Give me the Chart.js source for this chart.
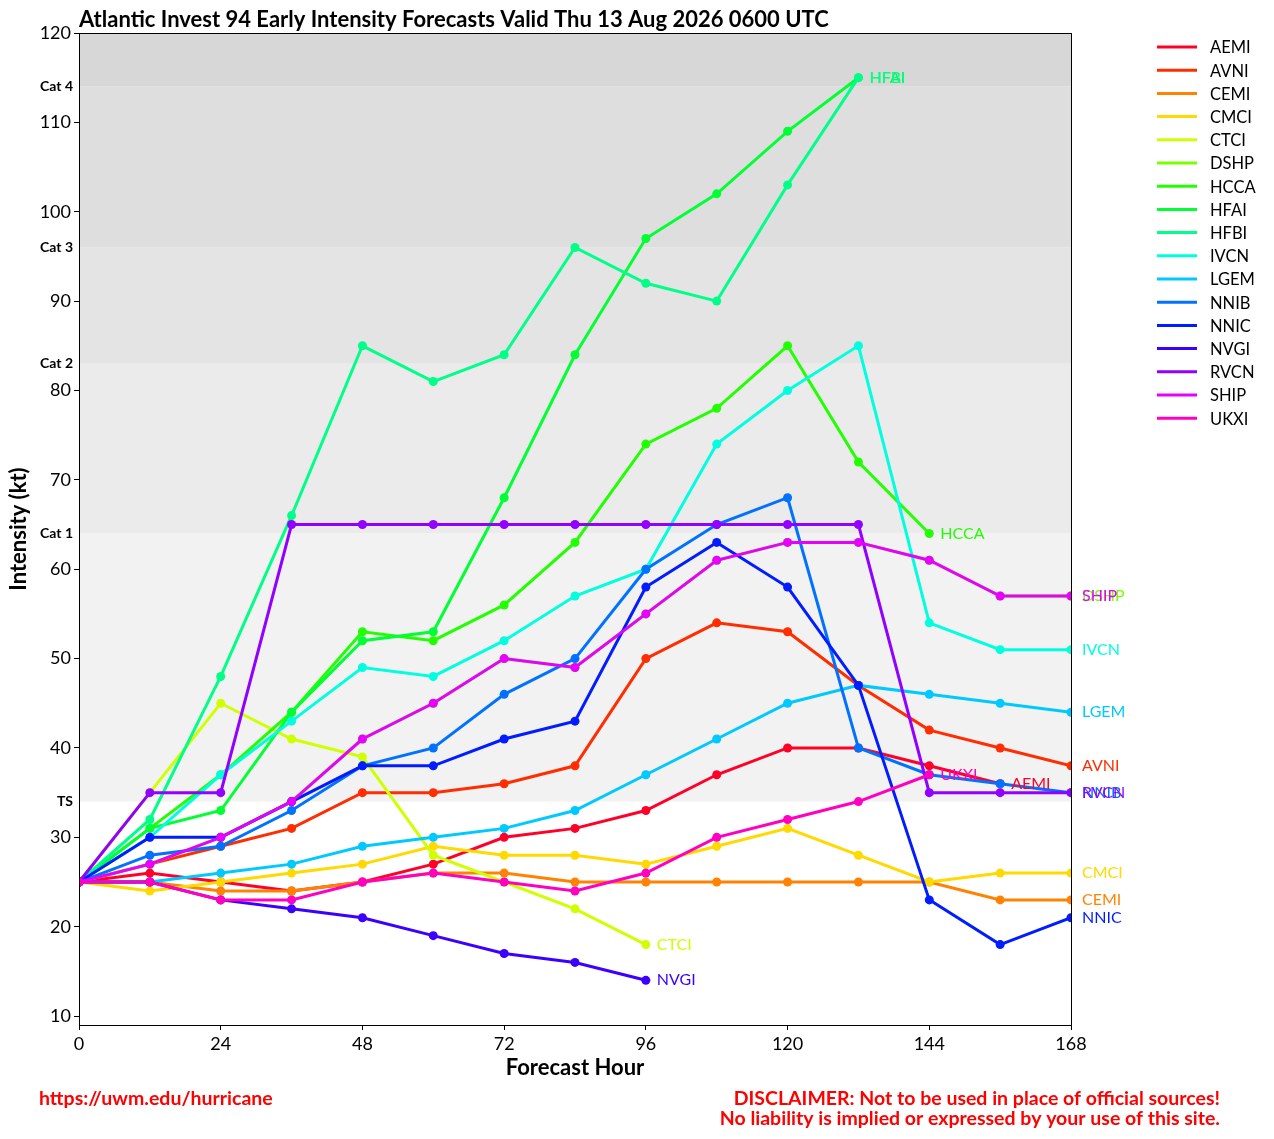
<!DOCTYPE html>
<html><head><meta charset="utf-8">
<script src="https://cdn.jsdelivr.net/npm/chart.js@4.4.1/dist/chart.umd.min.js"></script>
<style>html,body{margin:0;padding:0;background:#fff}#wrap{width:1274px;height:1139px;position:relative}</style>
</head><body><div id="wrap"><canvas id="c" width="1274" height="1139"></canvas></div>
<script>
const hours = [0,12,24,36,48,60,72,84,96,108,120,132,144,156,168];
const modelNames = ['AEMI','AVNI','CEMI','CMCI','CTCI','DSHP','HCCA','HFAI','HFBI','IVCN','LGEM','NNIB','NNIC','NVGI','RVCN','SHIP','UKXI'];
const AEMI = [25,26,25,24,25,27,30,31,33,37,40,40,38,36,null];
const AVNI = [25,27,29,31,35,35,36,38,50,54,53,47,42,40,38];
const CEMI = [25,25,24,24,25,26,26,25,25,25,25,25,25,23,23];
const CMCI = [25,24,25,26,27,29,28,28,27,29,31,28,25,26,26];
const CTCI = [25,35,45,41,39,28,25,22,18,null,null,null,null,null,null];
const DSHP = [25,27,30,34,41,45,50,49,55,61,63,63,61,57,57];
const HCCA = [25,31,37,44,53,52,56,63,74,78,85,72,64,null,null];
const HFAI = [25,31,33,44,52,53,68,84,97,102,109,115,null,null,null];
const HFBI = [25,32,48,66,85,81,84,96,92,90,103,115,null,null,null];
const IVCN = [25,30,37,43,49,48,52,57,60,74,80,85,54,51,51];
const LGEM = [25,25,26,27,29,30,31,33,37,41,45,47,46,45,44];
const NNIB = [25,28,29,33,38,40,46,50,60,65,68,40,37,36,35];
const NNIC = [25,30,30,34,38,38,41,43,58,63,58,47,23,18,21];
const NVGI = [25,25,23,22,21,19,17,16,14,null,null,null,null,null,null];
const RVCN = [25,35,35,65,65,65,65,65,65,65,65,65,35,35,35];
const SHIP = [25,27,30,34,41,45,50,49,55,61,63,63,61,57,57];
const UKXI = [25,25,23,23,25,26,25,24,26,30,32,34,37,null,null];
const seriesValues = [AEMI,AVNI,CEMI,CMCI,CTCI,DSHP,HCCA,HFAI,HFBI,IVCN,LGEM,NNIB,NNIC,NVGI,RVCN,SHIP,UKXI];
const seriesColors = ['#ff0029','#ff2d00','#ff8300','#ffd900','#cfff00','#79ff00','#22ff00','#00ff33','#00ff89','#00ffdf','#00c9ff','#0072ff','#001cff','#3b00ff','#9200ff','#e800ff','#ff00bf'];
const xTicks = [0,24,48,72,96,120,144,168];
const yTicks = [10,20,30,40,50,60,70,80,90,100,110,120];
const bandEdges = [34,64,83,96,114,120];
const bandColors = ['#f2f2f2','#ebebeb','#e4e4e4','#dedede','#d7d7d7'];
const bandLabels = ['TS','Cat 1','Cat 2','Cat 3','Cat 4'];
const titleText = 'Atlantic Invest 94 Early Intensity Forecasts Valid Thu 13 Aug 2026 0600 UTC';

const FONT = 'Lato, "Noto Sans", sans-serif';

const datasets = modelNames.map((n,i)=>({
  label:n,
  data: hours.map((h,j)=> seriesValues[i][j]==null?null:{x:h,y:seriesValues[i][j]}).filter(p=>p),
  borderColor: seriesColors[i],
  backgroundColor: seriesColors[i],
  pointBackgroundColor: seriesColors[i],
  pointBorderColor: seriesColors[i],
  borderWidth: 3,
  pointRadius: 4.5,
  pointBorderWidth: 0,
  tension: 0,
  order: modelNames.length - i
}));

const bandsPlugin = {
  id:'bands',
  beforeDatasetsDraw(chart){
    const {ctx, chartArea:a, scales:{y}} = chart;
    ctx.save();
    for(let i=0;i<bandColors.length;i++){
      const y0 = y.getPixelForValue(bandEdges[i]);
      const y1 = y.getPixelForValue(bandEdges[i+1]);
      ctx.fillStyle = bandColors[i];
      ctx.fillRect(a.left, y1, a.right-a.left, y0-y1);
    }
    ctx.fillStyle = '#000';
    ctx.font = 'bold 14px ' + FONT;
    ctx.textAlign = 'right';
    ctx.textBaseline = 'middle';
    for(let i=0;i<bandLabels.length;i++){
      ctx.fillText(bandLabels[i], a.left - 6, y.getPixelForValue(bandEdges[i]));
    }
    ctx.restore();
  },
  afterDatasetsDraw(chart){
    const {ctx, chartArea:a} = chart;
    ctx.save();
    ctx.strokeStyle = '#000'; ctx.lineWidth = 1;
    ctx.strokeRect(a.left+0.5, a.top+0.5, a.right-a.left, a.bottom-a.top);
    ctx.font = '16px ' + FONT;
    ctx.textAlign = 'left';
    ctx.textBaseline = 'middle';
    chart.data.datasets.forEach((ds,i)=>{
      const meta = chart.getDatasetMeta(i);
      const pt = meta.data[meta.data.length-1];
      ctx.fillStyle = ds.borderColor;
      ctx.fillText(ds.label, pt.x + 11, pt.y);
    });
    ctx.font = '16.5px ' + FONT;
    modelNames.forEach((n,i)=>{
      const yy = 47 + i*23.2;
      ctx.strokeStyle = seriesColors[i];
      ctx.lineWidth = 3;
      ctx.beginPath(); ctx.moveTo(1157, yy); ctx.lineTo(1197, yy); ctx.stroke();
      ctx.fillStyle = '#000';
      ctx.fillText(n, 1210, yy+1);
    });
    ctx.font = 'bold 22px ' + FONT;
    ctx.fillStyle = '#000';
    ctx.textBaseline = 'alphabetic';
    ctx.fillText(titleText, a.left, 27);
    ctx.font = 'bold 19.5px ' + FONT;
    ctx.fillStyle = '#ff0000';
    ctx.fillText('https://uwm.edu/hurricane', 39, 1105);
    ctx.textAlign = 'right';
    ctx.fillText('DISCLAIMER: Not to be used in place of official sources!', 1220, 1105);
    ctx.fillText('No liability is implied or expressed by your use of this site.', 1220, 1125);
    ctx.restore();
  }
};

new Chart(document.getElementById('c'), {
  type:'line',
  data:{datasets},
  options:{
    responsive:false,
    animation:false,
    devicePixelRatio:1,
    layout:{padding:{left:0, top:33, right:203, bottom:54}},
    plugins:{legend:{display:false}, tooltip:{enabled:false}, title:{display:false}},
    scales:{
      x:{
        type:'linear', min:0, max:168,
        afterBuildTicks(s){ s.ticks = xTicks.map(v=>({value:v})); },
        afterFit(s){ s.height = 60; },
        ticks:{color:'#000', font:{family:FONT, size:18}, padding:3, maxRotation:0},
        grid:{display:true, drawOnChartArea:false, drawTicks:true, tickLength:5, color:'#000'},
        border:{display:true, color:'#000'},
        title:{display:true, text:'Forecast Hour', color:'#000', font:{family:FONT, size:22, weight:'bold'}, padding:{top:4,bottom:4}}
      },
      y:{
        type:'linear', min:9, max:120,
        afterBuildTicks(s){ s.ticks = yTicks.map(v=>({value:v})); },
        afterFit(s){ s.width = 79; },
        ticks:{color:'#000', font:{family:FONT, size:18}, padding:3},
        grid:{display:true, drawOnChartArea:false, drawTicks:true, tickLength:5, color:'#000'},
        border:{display:true, color:'#000'},
        title:{display:true, text:'Intensity (kt)', color:'#000', font:{family:FONT, size:22, weight:'bold'}, padding:{top:6,bottom:0}}
      }
    }
  },
  plugins:[bandsPlugin]
});
</script></body></html>
